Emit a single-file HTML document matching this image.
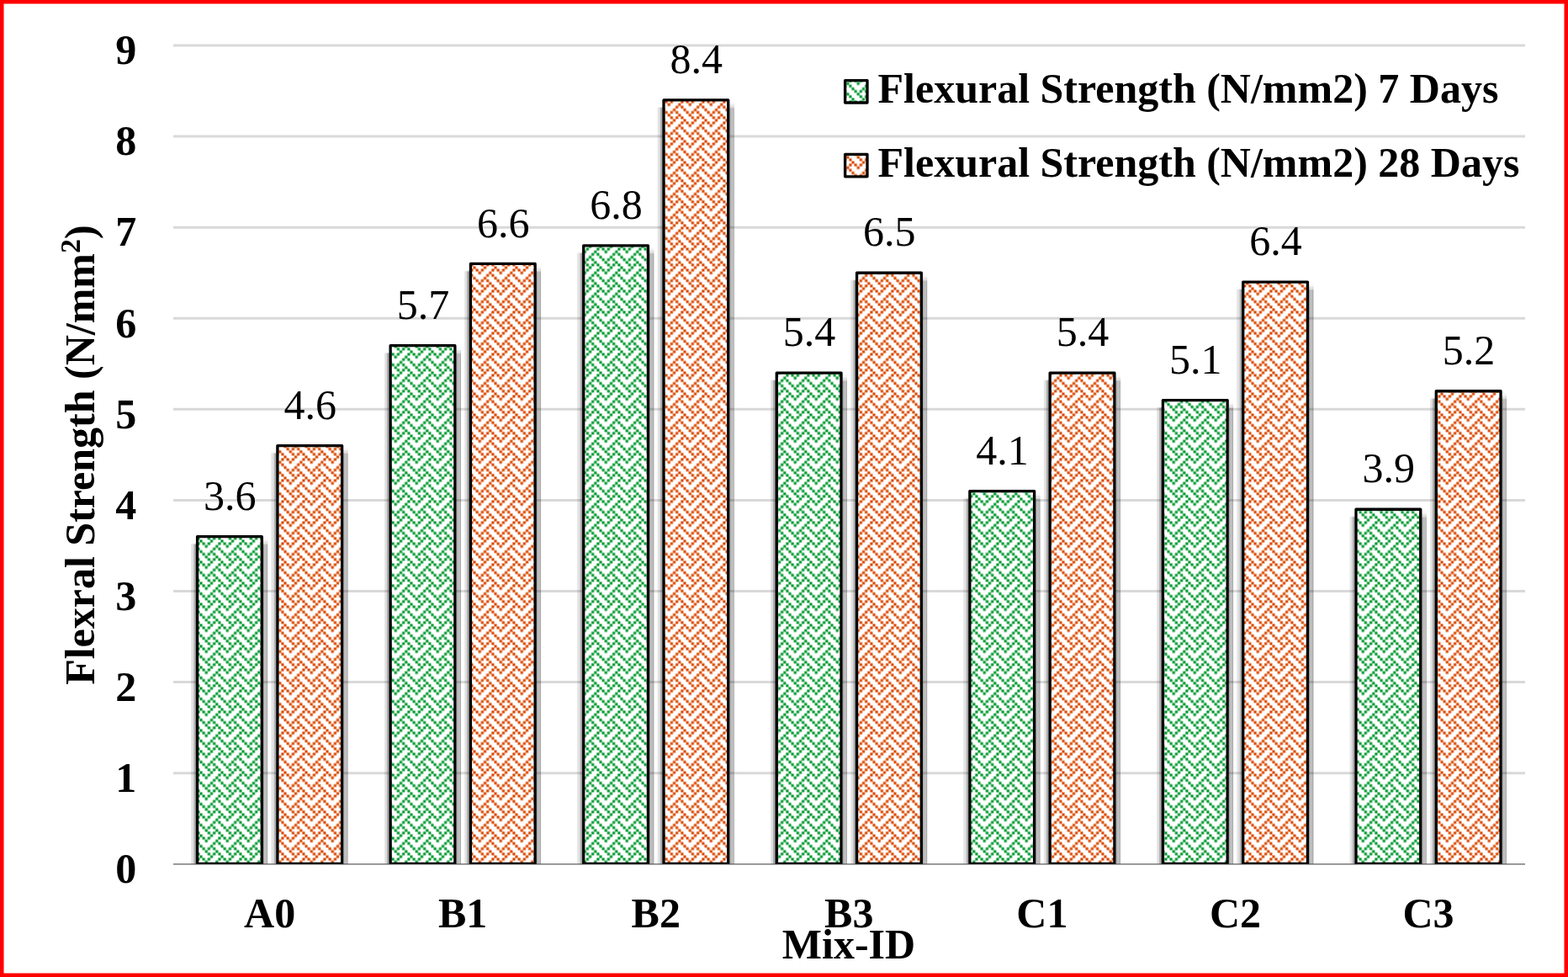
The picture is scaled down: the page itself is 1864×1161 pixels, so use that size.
<!DOCTYPE html>
<html lang="en"><head><meta charset="utf-8"><title>Flexural Strength chart</title>
<style>html,body{margin:0;padding:0;background:#fff}body{width:1864px;height:1161px;overflow:hidden}svg{display:block}text{fill:#000}</style></head><body>
<svg width="1864" height="1161" viewBox="0 0 1864 1161" font-family="'Liberation Serif', serif" font-size="50">
<defs>
<pattern id="pg" patternUnits="userSpaceOnUse" x="12.46" y="16.46" width="25" height="25"><rect width="25" height="25" fill="#fff"/><path d="M-0.038 -0.038h3.2v3.2h-3.2zM-0.038 24.962h3.2v3.2h-3.2zM24.962 -0.038h3.2v3.2h-3.2zM24.962 24.962h3.2v3.2h-3.2zM12.463 -0.038h3.2v3.2h-3.2zM12.463 24.962h3.2v3.2h-3.2zM3.087 3.087h3.2v3.2h-3.2zM9.338 3.087h3.2v3.2h-3.2zM-3.163 3.087h3.2v3.2h-3.2zM21.837 3.087h3.2v3.2h-3.2zM6.213 6.213h3.2v3.2h-3.2zM18.712 6.213h3.2v3.2h-3.2zM15.588 9.338h3.2v3.2h-3.2zM-3.163 9.338h3.2v3.2h-3.2zM21.837 9.338h3.2v3.2h-3.2zM-0.038 12.463h3.2v3.2h-3.2zM24.962 12.463h3.2v3.2h-3.2zM12.463 12.463h3.2v3.2h-3.2zM3.087 15.588h3.2v3.2h-3.2zM9.338 15.588h3.2v3.2h-3.2zM15.588 15.588h3.2v3.2h-3.2zM6.213 18.712h3.2v3.2h-3.2zM18.712 18.712h3.2v3.2h-3.2zM9.338 -3.163h3.2v3.2h-3.2zM9.338 21.837h3.2v3.2h-3.2zM15.588 -3.163h3.2v3.2h-3.2zM15.588 21.837h3.2v3.2h-3.2zM-3.163 -3.163h3.2v3.2h-3.2zM-3.163 21.837h3.2v3.2h-3.2zM21.837 -3.163h3.2v3.2h-3.2zM21.837 21.837h3.2v3.2h-3.2z" fill="#00992e"/></pattern>
<pattern id="po" patternUnits="userSpaceOnUse" x="12.46" y="16.46" width="25" height="25"><rect width="25" height="25" fill="#fff"/><path d="M-0.038 -0.038h3.2v3.2h-3.2zM-0.038 24.962h3.2v3.2h-3.2zM24.962 -0.038h3.2v3.2h-3.2zM24.962 24.962h3.2v3.2h-3.2zM12.463 -0.038h3.2v3.2h-3.2zM12.463 24.962h3.2v3.2h-3.2zM3.087 3.087h3.2v3.2h-3.2zM9.338 3.087h3.2v3.2h-3.2zM-3.163 3.087h3.2v3.2h-3.2zM21.837 3.087h3.2v3.2h-3.2zM6.213 6.213h3.2v3.2h-3.2zM18.712 6.213h3.2v3.2h-3.2zM15.588 9.338h3.2v3.2h-3.2zM-3.163 9.338h3.2v3.2h-3.2zM21.837 9.338h3.2v3.2h-3.2zM-0.038 12.463h3.2v3.2h-3.2zM24.962 12.463h3.2v3.2h-3.2zM12.463 12.463h3.2v3.2h-3.2zM3.087 15.588h3.2v3.2h-3.2zM9.338 15.588h3.2v3.2h-3.2zM15.588 15.588h3.2v3.2h-3.2zM6.213 18.712h3.2v3.2h-3.2zM18.712 18.712h3.2v3.2h-3.2zM9.338 -3.163h3.2v3.2h-3.2zM9.338 21.837h3.2v3.2h-3.2zM15.588 -3.163h3.2v3.2h-3.2zM15.588 21.837h3.2v3.2h-3.2zM-3.163 -3.163h3.2v3.2h-3.2zM-3.163 21.837h3.2v3.2h-3.2zM21.837 -3.163h3.2v3.2h-3.2zM21.837 21.837h3.2v3.2h-3.2z" fill="#da4800"/></pattern>
<linearGradient id="sl" x1="0" x2="1" y1="0" y2="0"><stop offset="0.000" stop-color="#000" stop-opacity="0"/><stop offset="0.065" stop-color="#000" stop-opacity="0.085"/><stop offset="0.258" stop-color="#000" stop-opacity="0.09"/><stop offset="0.323" stop-color="#000" stop-opacity="0.13"/><stop offset="0.565" stop-color="#000" stop-opacity="0.135"/><stop offset="0.629" stop-color="#000" stop-opacity="0.31"/><stop offset="0.887" stop-color="#000" stop-opacity="0.33"/><stop offset="1.000" stop-color="#000" stop-opacity="0.6"/></linearGradient>
<linearGradient id="sr" x1="0" x2="1" y1="0" y2="0"><stop offset="0.000" stop-color="#000" stop-opacity="0.36"/><stop offset="0.167" stop-color="#000" stop-opacity="0.34"/><stop offset="0.233" stop-color="#000" stop-opacity="0.26"/><stop offset="0.700" stop-color="#000" stop-opacity="0.25"/><stop offset="0.750" stop-color="#000" stop-opacity="0.33"/><stop offset="0.850" stop-color="#000" stop-opacity="0.33"/><stop offset="0.950" stop-color="#000" stop-opacity="0.05"/><stop offset="1.000" stop-color="#000" stop-opacity="0"/></linearGradient>
<clipPath id="pc"><rect x="0" y="0" width="1864" height="1026.75"/></clipPath>
</defs>
<rect x="0" y="0" width="1864" height="1161" fill="#fff"/>
<line x1="206.0" x2="1813.0" y1="918.67" y2="918.67" stroke="#d9d9d9" stroke-width="3"/>
<line x1="206.0" x2="1813.0" y1="810.59" y2="810.59" stroke="#d9d9d9" stroke-width="3"/>
<line x1="206.0" x2="1813.0" y1="702.51" y2="702.51" stroke="#d9d9d9" stroke-width="3"/>
<line x1="206.0" x2="1813.0" y1="594.43" y2="594.43" stroke="#d9d9d9" stroke-width="3"/>
<line x1="206.0" x2="1813.0" y1="486.35" y2="486.35" stroke="#d9d9d9" stroke-width="3"/>
<line x1="206.0" x2="1813.0" y1="378.27" y2="378.27" stroke="#d9d9d9" stroke-width="3"/>
<line x1="206.0" x2="1813.0" y1="270.19" y2="270.19" stroke="#d9d9d9" stroke-width="3"/>
<line x1="206.0" x2="1813.0" y1="162.11" y2="162.11" stroke="#d9d9d9" stroke-width="3"/>
<line x1="206.0" x2="1813.0" y1="54.03" y2="54.03" stroke="#d9d9d9" stroke-width="3"/>
<line x1="206.0" x2="1813.0" y1="1026.85" y2="1026.85" stroke="#8c8c8c" stroke-width="1.6"/>
<g clip-path="url(#pc)">
<rect x="226.81" y="645.66" width="6.2" height="1" fill="url(#sl)" opacity="0.35"/><rect x="226.81" y="646.66" width="6.2" height="380.09" fill="url(#sl)"/><rect x="312.86" y="640.16" width="6.0" height="3" fill="url(#sr)" opacity="0.1"/><rect x="312.86" y="643.16" width="6.0" height="3" fill="url(#sr)" opacity="0.4"/><rect x="312.86" y="646.16" width="6.0" height="1" fill="url(#sr)" opacity="0.7"/><rect x="312.86" y="647.16" width="6.0" height="379.59" fill="url(#sr)"/><rect x="234.56" y="637.66" width="76.75" height="388.74" fill="url(#pg)" stroke="#000" stroke-width="3.3" stroke-linejoin="round"/>
<rect x="322.11" y="537.58" width="6.2" height="1" fill="url(#sl)" opacity="0.35"/><rect x="322.11" y="538.58" width="6.2" height="488.17" fill="url(#sl)"/><rect x="408.16" y="532.08" width="6.0" height="3" fill="url(#sr)" opacity="0.1"/><rect x="408.16" y="535.08" width="6.0" height="3" fill="url(#sr)" opacity="0.4"/><rect x="408.16" y="538.08" width="6.0" height="1" fill="url(#sr)" opacity="0.7"/><rect x="408.16" y="539.08" width="6.0" height="487.67" fill="url(#sr)"/><rect x="329.86" y="529.58" width="76.75" height="496.82" fill="url(#po)" stroke="#000" stroke-width="3.3" stroke-linejoin="round"/>
<rect x="456.38" y="418.69" width="6.2" height="1" fill="url(#sl)" opacity="0.35"/><rect x="456.38" y="419.69" width="6.2" height="607.06" fill="url(#sl)"/><rect x="542.43" y="413.19" width="6.0" height="3" fill="url(#sr)" opacity="0.1"/><rect x="542.43" y="416.19" width="6.0" height="3" fill="url(#sr)" opacity="0.4"/><rect x="542.43" y="419.19" width="6.0" height="1" fill="url(#sr)" opacity="0.7"/><rect x="542.43" y="420.19" width="6.0" height="606.56" fill="url(#sr)"/><rect x="464.13" y="410.69" width="76.75" height="615.71" fill="url(#pg)" stroke="#000" stroke-width="3.3" stroke-linejoin="round"/>
<rect x="551.68" y="321.42" width="6.2" height="1" fill="url(#sl)" opacity="0.35"/><rect x="551.68" y="322.42" width="6.2" height="704.33" fill="url(#sl)"/><rect x="637.73" y="315.92" width="6.0" height="3" fill="url(#sr)" opacity="0.1"/><rect x="637.73" y="318.92" width="6.0" height="3" fill="url(#sr)" opacity="0.4"/><rect x="637.73" y="321.92" width="6.0" height="1" fill="url(#sr)" opacity="0.7"/><rect x="637.73" y="322.92" width="6.0" height="703.83" fill="url(#sr)"/><rect x="559.43" y="313.42" width="76.75" height="712.98" fill="url(#po)" stroke="#000" stroke-width="3.3" stroke-linejoin="round"/>
<rect x="685.95" y="299.81" width="6.2" height="1" fill="url(#sl)" opacity="0.35"/><rect x="685.95" y="300.81" width="6.2" height="725.94" fill="url(#sl)"/><rect x="772.00" y="294.31" width="6.0" height="3" fill="url(#sr)" opacity="0.1"/><rect x="772.00" y="297.31" width="6.0" height="3" fill="url(#sr)" opacity="0.4"/><rect x="772.00" y="300.31" width="6.0" height="1" fill="url(#sr)" opacity="0.7"/><rect x="772.00" y="301.31" width="6.0" height="725.44" fill="url(#sr)"/><rect x="693.70" y="291.81" width="76.75" height="734.59" fill="url(#pg)" stroke="#000" stroke-width="3.3" stroke-linejoin="round"/>
<rect x="781.25" y="126.88" width="6.2" height="1" fill="url(#sl)" opacity="0.35"/><rect x="781.25" y="127.88" width="6.2" height="898.87" fill="url(#sl)"/><rect x="867.30" y="121.38" width="6.0" height="3" fill="url(#sr)" opacity="0.1"/><rect x="867.30" y="124.38" width="6.0" height="3" fill="url(#sr)" opacity="0.4"/><rect x="867.30" y="127.38" width="6.0" height="1" fill="url(#sr)" opacity="0.7"/><rect x="867.30" y="128.38" width="6.0" height="898.37" fill="url(#sr)"/><rect x="789.00" y="118.88" width="76.75" height="907.52" fill="url(#po)" stroke="#000" stroke-width="3.3" stroke-linejoin="round"/>
<rect x="915.52" y="451.12" width="6.2" height="1" fill="url(#sl)" opacity="0.35"/><rect x="915.52" y="452.12" width="6.2" height="574.63" fill="url(#sl)"/><rect x="1001.57" y="445.62" width="6.0" height="3" fill="url(#sr)" opacity="0.1"/><rect x="1001.57" y="448.62" width="6.0" height="3" fill="url(#sr)" opacity="0.4"/><rect x="1001.57" y="451.62" width="6.0" height="1" fill="url(#sr)" opacity="0.7"/><rect x="1001.57" y="452.62" width="6.0" height="574.13" fill="url(#sr)"/><rect x="923.27" y="443.12" width="76.75" height="583.28" fill="url(#pg)" stroke="#000" stroke-width="3.3" stroke-linejoin="round"/>
<rect x="1010.82" y="332.23" width="6.2" height="1" fill="url(#sl)" opacity="0.35"/><rect x="1010.82" y="333.23" width="6.2" height="693.52" fill="url(#sl)"/><rect x="1096.88" y="326.73" width="6.0" height="3" fill="url(#sr)" opacity="0.1"/><rect x="1096.88" y="329.73" width="6.0" height="3" fill="url(#sr)" opacity="0.4"/><rect x="1096.88" y="332.73" width="6.0" height="1" fill="url(#sr)" opacity="0.7"/><rect x="1096.88" y="333.73" width="6.0" height="693.02" fill="url(#sr)"/><rect x="1018.57" y="324.23" width="76.75" height="702.17" fill="url(#po)" stroke="#000" stroke-width="3.3" stroke-linejoin="round"/>
<rect x="1145.10" y="591.62" width="6.2" height="1" fill="url(#sl)" opacity="0.35"/><rect x="1145.10" y="592.62" width="6.2" height="434.13" fill="url(#sl)"/><rect x="1231.15" y="586.12" width="6.0" height="3" fill="url(#sr)" opacity="0.1"/><rect x="1231.15" y="589.12" width="6.0" height="3" fill="url(#sr)" opacity="0.4"/><rect x="1231.15" y="592.12" width="6.0" height="1" fill="url(#sr)" opacity="0.7"/><rect x="1231.15" y="593.12" width="6.0" height="433.63" fill="url(#sr)"/><rect x="1152.85" y="583.62" width="76.75" height="442.78" fill="url(#pg)" stroke="#000" stroke-width="3.3" stroke-linejoin="round"/>
<rect x="1240.40" y="451.12" width="6.2" height="1" fill="url(#sl)" opacity="0.35"/><rect x="1240.40" y="452.12" width="6.2" height="574.63" fill="url(#sl)"/><rect x="1326.45" y="445.62" width="6.0" height="3" fill="url(#sr)" opacity="0.1"/><rect x="1326.45" y="448.62" width="6.0" height="3" fill="url(#sr)" opacity="0.4"/><rect x="1326.45" y="451.62" width="6.0" height="1" fill="url(#sr)" opacity="0.7"/><rect x="1326.45" y="452.62" width="6.0" height="574.13" fill="url(#sr)"/><rect x="1248.15" y="443.12" width="76.75" height="583.28" fill="url(#po)" stroke="#000" stroke-width="3.3" stroke-linejoin="round"/>
<rect x="1374.67" y="483.54" width="6.2" height="1" fill="url(#sl)" opacity="0.35"/><rect x="1374.67" y="484.54" width="6.2" height="542.21" fill="url(#sl)"/><rect x="1460.72" y="478.04" width="6.0" height="3" fill="url(#sr)" opacity="0.1"/><rect x="1460.72" y="481.04" width="6.0" height="3" fill="url(#sr)" opacity="0.4"/><rect x="1460.72" y="484.04" width="6.0" height="1" fill="url(#sr)" opacity="0.7"/><rect x="1460.72" y="485.04" width="6.0" height="541.71" fill="url(#sr)"/><rect x="1382.42" y="475.54" width="76.75" height="550.86" fill="url(#pg)" stroke="#000" stroke-width="3.3" stroke-linejoin="round"/>
<rect x="1469.97" y="343.04" width="6.2" height="1" fill="url(#sl)" opacity="0.35"/><rect x="1469.97" y="344.04" width="6.2" height="682.71" fill="url(#sl)"/><rect x="1556.02" y="337.54" width="6.0" height="3" fill="url(#sr)" opacity="0.1"/><rect x="1556.02" y="340.54" width="6.0" height="3" fill="url(#sr)" opacity="0.4"/><rect x="1556.02" y="343.54" width="6.0" height="1" fill="url(#sr)" opacity="0.7"/><rect x="1556.02" y="344.54" width="6.0" height="682.21" fill="url(#sr)"/><rect x="1477.72" y="335.04" width="76.75" height="691.36" fill="url(#po)" stroke="#000" stroke-width="3.3" stroke-linejoin="round"/>
<rect x="1604.24" y="613.24" width="6.2" height="1" fill="url(#sl)" opacity="0.35"/><rect x="1604.24" y="614.24" width="6.2" height="412.51" fill="url(#sl)"/><rect x="1690.29" y="607.74" width="6.0" height="3" fill="url(#sr)" opacity="0.1"/><rect x="1690.29" y="610.74" width="6.0" height="3" fill="url(#sr)" opacity="0.4"/><rect x="1690.29" y="613.74" width="6.0" height="1" fill="url(#sr)" opacity="0.7"/><rect x="1690.29" y="614.74" width="6.0" height="412.01" fill="url(#sr)"/><rect x="1611.99" y="605.24" width="76.75" height="421.16" fill="url(#pg)" stroke="#000" stroke-width="3.3" stroke-linejoin="round"/>
<rect x="1699.54" y="472.73" width="6.2" height="1" fill="url(#sl)" opacity="0.35"/><rect x="1699.54" y="473.73" width="6.2" height="553.02" fill="url(#sl)"/><rect x="1785.59" y="467.23" width="6.0" height="3" fill="url(#sr)" opacity="0.1"/><rect x="1785.59" y="470.23" width="6.0" height="3" fill="url(#sr)" opacity="0.4"/><rect x="1785.59" y="473.23" width="6.0" height="1" fill="url(#sr)" opacity="0.7"/><rect x="1785.59" y="474.23" width="6.0" height="552.52" fill="url(#sr)"/><rect x="1707.29" y="464.73" width="76.75" height="561.67" fill="url(#po)" stroke="#000" stroke-width="3.3" stroke-linejoin="round"/>
</g>
<text x="273.34" y="605.86" text-anchor="middle">3.6</text>
<text x="368.64" y="497.78" text-anchor="middle">4.6</text>
<text x="320.59" y="1101.8" text-anchor="middle" font-weight="bold">A0</text>
<text x="502.91" y="378.89" text-anchor="middle">5.7</text>
<text x="598.21" y="281.62" text-anchor="middle">6.6</text>
<text x="550.16" y="1101.8" text-anchor="middle" font-weight="bold">B1</text>
<text x="732.48" y="260.01" text-anchor="middle">6.8</text>
<text x="827.78" y="87.08" text-anchor="middle">8.4</text>
<text x="779.73" y="1101.8" text-anchor="middle" font-weight="bold">B2</text>
<text x="962.05" y="411.32" text-anchor="middle">5.4</text>
<text x="1057.35" y="292.43" text-anchor="middle">6.5</text>
<text x="1009.30" y="1101.8" text-anchor="middle" font-weight="bold">B3</text>
<text x="1191.62" y="551.82" text-anchor="middle">4.1</text>
<text x="1286.92" y="411.32" text-anchor="middle">5.4</text>
<text x="1238.87" y="1101.8" text-anchor="middle" font-weight="bold">C1</text>
<text x="1421.19" y="443.74" text-anchor="middle">5.1</text>
<text x="1516.49" y="303.24" text-anchor="middle">6.4</text>
<text x="1468.44" y="1101.8" text-anchor="middle" font-weight="bold">C2</text>
<text x="1650.76" y="573.44" text-anchor="middle">3.9</text>
<text x="1746.06" y="432.93" text-anchor="middle">5.2</text>
<text x="1698.01" y="1101.8" text-anchor="middle" font-weight="bold">C3</text>
<text x="162.3" y="1049.05" text-anchor="end" font-weight="bold">0</text>
<text x="162.3" y="940.97" text-anchor="end" font-weight="bold">1</text>
<text x="162.3" y="832.89" text-anchor="end" font-weight="bold">2</text>
<text x="162.3" y="724.81" text-anchor="end" font-weight="bold">3</text>
<text x="162.3" y="616.73" text-anchor="end" font-weight="bold">4</text>
<text x="162.3" y="508.65" text-anchor="end" font-weight="bold">5</text>
<text x="162.3" y="400.57" text-anchor="end" font-weight="bold">6</text>
<text x="162.3" y="292.49" text-anchor="end" font-weight="bold">7</text>
<text x="162.3" y="184.41" text-anchor="end" font-weight="bold">8</text>
<text x="162.3" y="76.33" text-anchor="end" font-weight="bold">9</text>
<text x="1009" y="1139.4" text-anchor="middle" font-weight="bold">Mix-ID</text>
<text transform="translate(112.4,540.6) rotate(-90)" text-anchor="middle" font-weight="bold" font-size="50">Flexral Strength (N/mm<tspan font-size="34" dy="-17">2</tspan><tspan dy="17">)</tspan></text>
<rect x="1004.6" y="95.60" width="26.4" height="26.4" fill="url(#pg)" stroke="#000" stroke-width="3.3" stroke-linejoin="round"/><text x="1043.5" y="121.80" font-weight="bold" font-size="50">Flexural Strength (N/mm2) 7 Days</text>
<rect x="1004.6" y="183.40" width="26.4" height="26.4" fill="url(#po)" stroke="#000" stroke-width="3.3" stroke-linejoin="round"/><text x="1043.5" y="209.60" font-weight="bold" font-size="50">Flexural Strength (N/mm2) 28 Days</text>
<rect x="2.25" y="2.25" width="1859.5" height="1156.5" fill="none" stroke="#ff0000" stroke-width="4.5"/>
</svg></body></html>
